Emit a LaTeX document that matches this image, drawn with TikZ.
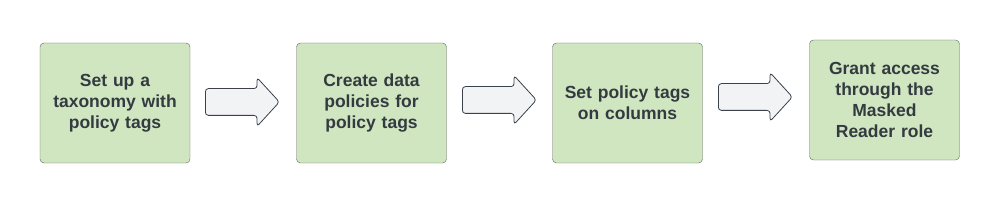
\documentclass[tikz,border=0pt]{standalone}
\usepackage{fontspec}
\setmainfont{Liberation Sans}
\usetikzlibrary{shapes.arrows}

\definecolor{stepgreen}{HTML}{D0E6C1}
\definecolor{stepline}{HTML}{5F6660}
\definecolor{arrowfill}{HTML}{F2F3F5}
\definecolor{arrowline}{HTML}{3A414A}
\definecolor{stepfont}{HTML}{333A40}

\tikzset{
    stepbox/.style={draw=stepline, fill=stepgreen, rounded corners=4pt,
        minimum width=150pt, minimum height=120pt, text width=130pt,
        align=center, inner sep=0pt, text=stepfont,
        font=\fontsize{17.5}{21}\selectfont\bfseries},
    blockarrow/.style={single arrow, draw=arrowline, fill=arrowfill,
        rounded corners=3pt, minimum height=74pt, minimum width=48pt,
        inner xsep=0pt, inner ysep=13pt, single arrow head extend=11pt,
        single arrow tip angle=95, line width=0.8pt}
}

\begin{document}
\begin{tikzpicture}[x=1pt, y=-1pt]
    \useasboundingbox (0,0) rectangle (1000,203);

    % Schritte
    \node[stepbox] (taxonomy) at (115,103)   {Set up a\\taxonomy with\\policy tags};
    \node[stepbox] (policies) at (371.5,103) {Create data\\policies for\\policy tags};
    \node[stepbox] (columns)  at (627.5,103) {Set policy tags\\on columns};
    \node[stepbox] (access)   at (884.5,100) {Grant access\\through the\\Masked\\Reader role};

    % Pfeile
    \node[blockarrow, anchor=tail] (arrowA) at (205,102) {};
    \node[blockarrow, anchor=tail] (arrowB) at (462,100) {};
    \node[blockarrow, anchor=tail] (arrowC) at (718,97)  {};
\end{tikzpicture}
\end{document}
